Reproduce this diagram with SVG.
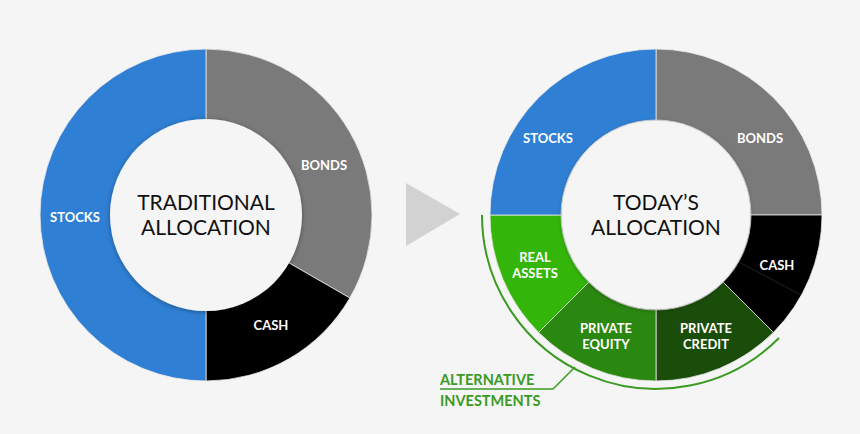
<svg xmlns="http://www.w3.org/2000/svg" width="860" height="434" viewBox="0 0 860 434">
<defs>
<filter id="sh" x="-20%" y="-20%" width="140%" height="140%"><feDropShadow dx="0" dy="1" stdDeviation="2.5" flood-color="#000" flood-opacity="0.35"/></filter>
</defs>
<style>
.seg{stroke:#e8e8e8;stroke-width:0.8}
.lb{font-family:Lato,"Liberation Sans",sans-serif;font-weight:bold;font-size:13px;fill:#fff;text-anchor:middle}
.ct{font-family:Lato,"Liberation Sans",sans-serif;font-size:21px;fill:#111;text-anchor:middle}
.gt{font-family:Lato,"Liberation Sans",sans-serif;font-weight:bold;font-size:14.5px;fill:#3a9a22}
</style>
<rect width="860" height="434" fill="#f5f5f5"/>
<g id="left">
<path class="seg" fill="#7a7a7a" d="M206,49 A166,166 0 0 1 349.8,298 L288.3,262.5 A95,95 0 0 0 206,120 Z"/>
<path class="seg" fill="#000" d="M349.8,298 A166,166 0 0 1 206,381 L206,310 A95,95 0 0 0 288.3,262.5 Z"/>
<path class="seg" fill="#2f7fd4" d="M206,381 A166,166 0 0 1 206,49 L206,120 A95,95 0 0 0 206,310 Z"/>
<circle cx="206" cy="215" r="96" fill="#f5f5f5" filter="url(#sh)"/>
<text class="ct" x="206" y="210">TRADITIONAL</text>
<text class="ct" x="206" y="235">ALLOCATION</text>
<text class="lb" x="75" y="222">STOCKS</text>
<text class="lb" x="324" y="170">BONDS</text>
<text class="lb" x="271" y="330">CASH</text>
</g>
<g id="arrow"><polygon points="406,183 460,214 406,246" fill="#d2d2d2"/></g>
<g id="right">
<path class="seg" fill="#7a7a7a" d="M656,49 A166,166 0 0 1 822,215 L751,215 A95,95 0 0 0 656,120 Z"/>
<path class="seg" fill="#000" d="M822,215 A166,166 0 0 1 773.4,332.4 L723.2,282.2 A95,95 0 0 0 751,215 Z"/>
<line x1="739" y1="262" x2="801" y2="295" stroke="#222" stroke-width="1"/>
<path class="seg" fill="#1b4d0a" d="M773.4,332.4 A166,166 0 0 1 656,381 L656,310 A95,95 0 0 0 723.2,282.2 Z"/>
<path class="seg" fill="#2a8710" d="M656,381 A166,166 0 0 1 538.6,332.4 L588.8,282.2 A95,95 0 0 0 656,310 Z"/>
<path class="seg" fill="#33b50a" d="M538.6,332.4 A166,166 0 0 1 490,215 L561,215 A95,95 0 0 0 588.8,282.2 Z"/>
<path class="seg" fill="#2f7fd4" d="M490,215 A166,166 0 0 1 656,49 L656,120 A95,95 0 0 0 561,215 Z"/>
<circle cx="656" cy="215" r="94" fill="#f5f5f5" filter="url(#sh)"/>
<text class="ct" x="656" y="210">TODAY’S</text>
<text class="ct" x="656" y="235">ALLOCATION</text>
<text class="lb" x="548" y="143">STOCKS</text>
<text class="lb" x="760" y="143">BONDS</text>
<text class="lb" x="777" y="270">CASH</text>
<text class="lb" x="535" y="262">REAL</text>
<text class="lb" x="535" y="278">ASSETS</text>
<text class="lb" x="606" y="333">PRIVATE</text>
<text class="lb" x="606" y="349">EQUITY</text>
<text class="lb" x="706" y="333">PRIVATE</text>
<text class="lb" x="706" y="349">CREDIT</text>
</g>
<g id="connectors" fill="none" stroke="#3a9a22" stroke-width="2">
<path d="M482,215 A174,174 0 0 0 779,338"/>
<path d="M575,367 L553,389 L440,389" stroke-width="1.5"/>
</g>
<g id="alt-label">
<text class="gt" x="440" y="385">ALTERNATIVE</text>
<text class="gt" x="440" y="406">INVESTMENTS</text>
</g>
</svg>
